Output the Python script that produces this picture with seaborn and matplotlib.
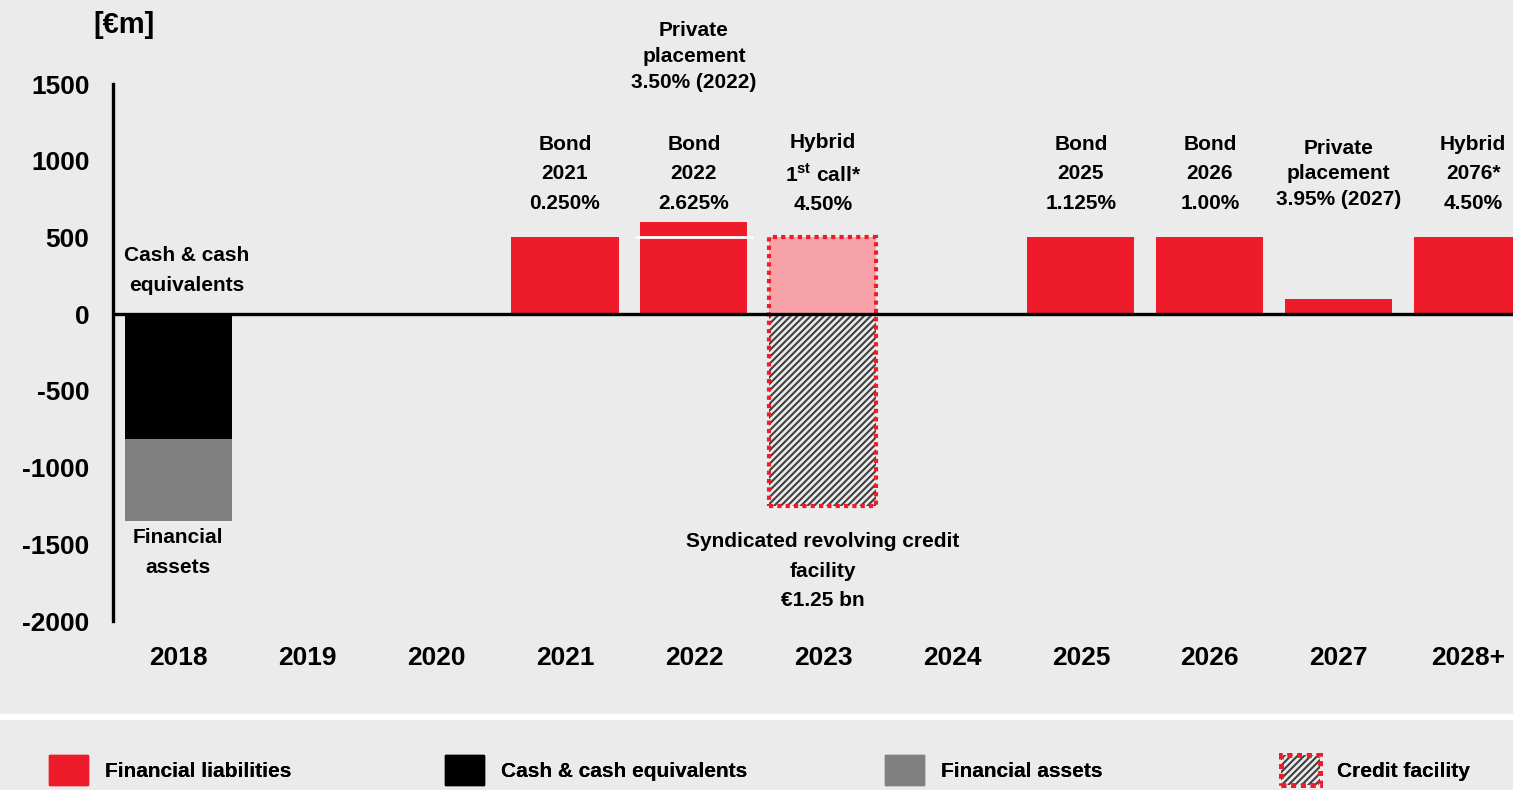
import matplotlib.pyplot as plt
import seaborn as sns
import numpy as np
import matplotlib.patches as mpatches
from matplotlib.lines import Line2D
from matplotlib.legend_handler import HandlerTuple

years = ["2018", "2019", "2020", "2021", "2022", "2023", "2024", "2025", "2026", "2027", "2028+"]
bonds_hybrids = [0, 0, 0, 500, 500, 0, 0, 500, 500, 0, 500]
private_placements = [0, 0, 0, 0, 100, 0, 0, 0, 0, 100, 0]
hybrid_first_call = [0, 0, 0, 0, 0, 500, 0, 0, 0, 0, 0]
cash = [-815, 0, 0, 0, 0, 0, 0, 0, 0, 0, 0]
financial_assets = [-530, 0, 0, 0, 0, 0, 0, 0, 0, 0, 0]
credit_facility = [0, 0, 0, 0, 0, -1250, 0, 0, 0, 0, 0]

top_labels = ["", "", "", "Bond\n2021\n0.250%", "Bond\n2022\n2.625%",
              "Hybrid\n1$^{\\mathbf{st}}$ call*\n4.50%", "",
              "Bond\n2025\n1.125%", "Bond\n2026\n1.00%",
              "Private\nplacement\n3.95% (2027)", "Hybrid\n2076*\n4.50%"]

RED = "#EE1C2B"
PINK = "#F7A2A8"
BG = "#EBEBEB"

sns.set_style("white", {"axes.facecolor": BG, "figure.facecolor": BG})
plt.rcParams["font.family"] = ["Liberation Sans", "DejaVu Sans"]
plt.rcParams["font.weight"] = "bold"
plt.rcParams["text.color"] = "black"
plt.rcParams["xtick.color"] = "black"
plt.rcParams["ytick.color"] = "black"
plt.rcParams["axes.unicode_minus"] = False
plt.rcParams["mathtext.fontset"] = "custom"
plt.rcParams["mathtext.bf"] = "Liberation Sans:bold"
plt.rcParams["mathtext.rm"] = "Liberation Sans:bold"
plt.rcParams["hatch.linewidth"] = 1.5

fig = plt.figure(figsize=(15.13, 7.9), dpi=100)
ax = fig.add_axes([0.0747, 0.2139, 0.9253, 0.6797])
W = 0.83

liab_total = np.array(bonds_hybrids) + np.array(private_placements)
asset_total = np.array(cash) + np.array(financial_assets)

sns.barplot(x=years, y=liab_total, order=years, color=RED, saturation=1, width=W, linewidth=0, ax=ax)
sns.barplot(x=years, y=hybrid_first_call, order=years, color=PINK, saturation=1, width=W, linewidth=0, ax=ax)
sns.barplot(x=years, y=asset_total, order=years, color="#808080", saturation=1, width=W, linewidth=0, ax=ax)
sns.barplot(x=years, y=cash, order=years, color="black", saturation=1, width=W, linewidth=0, ax=ax)
sns.barplot(x=years, y=credit_facility, order=years, color=BG, saturation=1, width=W,
            linewidth=0, hatch="/////", edgecolor="#404040", ax=ax)

# white separator between stacked liabilities
for i, (b, p) in enumerate(zip(bonds_hybrids, private_placements)):
    if b > 0 and p > 0:
        ax.hlines(b, i - 0.46, i + 0.46, color="white", lw=2, zorder=5)

# dotted border around credit facility
for i, (h, c) in enumerate(zip(hybrid_first_call, credit_facility)):
    if c != 0:
        ax.bar(i, h - c, bottom=c, width=W, fill=False, edgecolor=RED,
               linestyle=(0, (1, 1)), linewidth=3, zorder=6)

ax.axhline(0, color="black", lw=2.4, zorder=7)
ax.set_ylim(-2000, 1500)
ax.set_xlim(-0.504, 10.35)
ax.set_yticks([-2000, -1500, -1000, -500, 0, 500, 1000, 1500])
ax.set_ylabel("")
ax.tick_params(axis="y", length=0, pad=17, labelsize=19)
ax.tick_params(axis="x", length=0, pad=18, labelsize=19)
for lab in ax.get_xticklabels() + ax.get_yticklabels():
    lab.set_fontweight("bold")
for s in ["top", "right", "bottom"]:
    ax.spines[s].set_visible(False)
ax.spines["left"].set_color("black")
ax.spines["left"].set_linewidth(2.4)

# annotations
for i, t in enumerate(top_labels):
    if not t:
        continue
    ls = 1.42 if t.startswith("Private") else 1.72
    if "call" in t:
        ls = 1.6
    dx = 0.04 if i == len(years) - 1 else 0
    ax.text(i + dx, 915, t, ha="center", va="center", fontsize=15, fontweight="bold",
            linespacing=ls, clip_on=False)
ax.text(4, 1680, "Private\nplacement\n3.50% (2022)", ha="center", va="center",
        fontsize=15, fontweight="bold", linespacing=1.45, clip_on=False)
ax.text(0.07, 287, "Cash & cash\nequivalents", ha="center", va="center",
        fontsize=15, fontweight="bold", linespacing=1.72)
ax.text(0, -1552, "Financial\nassets", ha="center", va="center",
        fontsize=15, fontweight="bold", linespacing=1.72)
ax.text(5, -1675, "Syndicated revolving credit\nfacility\n€1.25 bn", ha="center", va="center",
        fontsize=15, fontweight="bold", linespacing=1.72)

fig.text(0.082, 0.968, "[€m]", ha="center", va="center", fontsize=21, fontweight="bold")

# legend strip
fig.add_artist(Line2D([0, 1], [0.0924, 0.0924], color="white", lw=4.5, transform=fig.transFigure))

hatch_patch = mpatches.Patch(facecolor=BG, hatch="/////", edgecolor="#404040", linewidth=0)
border_patch = mpatches.Patch(fill=False, edgecolor=RED, linestyle=(0, (1, 1)), linewidth=3.5)
items = [
    (mpatches.Patch(color=RED), "Financial liabilities", 49),
    (mpatches.Patch(color="black"), "Cash & cash equivalents", 445),
    (mpatches.Patch(color="#808080"), "Financial assets", 885),
    ((hatch_patch, border_patch), "Credit facility", 1281),
]
for handle, label, xpx in items:
    leg = fig.legend([handle], [label], loc="center left", bbox_to_anchor=(xpx / 1513, 0.0253),
                     frameon=False, borderpad=0, borderaxespad=0, handlelength=1.85,
                     handleheight=1.85, handletextpad=0.85,
                     prop={"weight": "bold", "size": 15},
                     handler_map={tuple: HandlerTuple(ndivide=1)})
    fig.add_artist(leg)

fig.savefig("out.png", dpi=100, facecolor=BG)
